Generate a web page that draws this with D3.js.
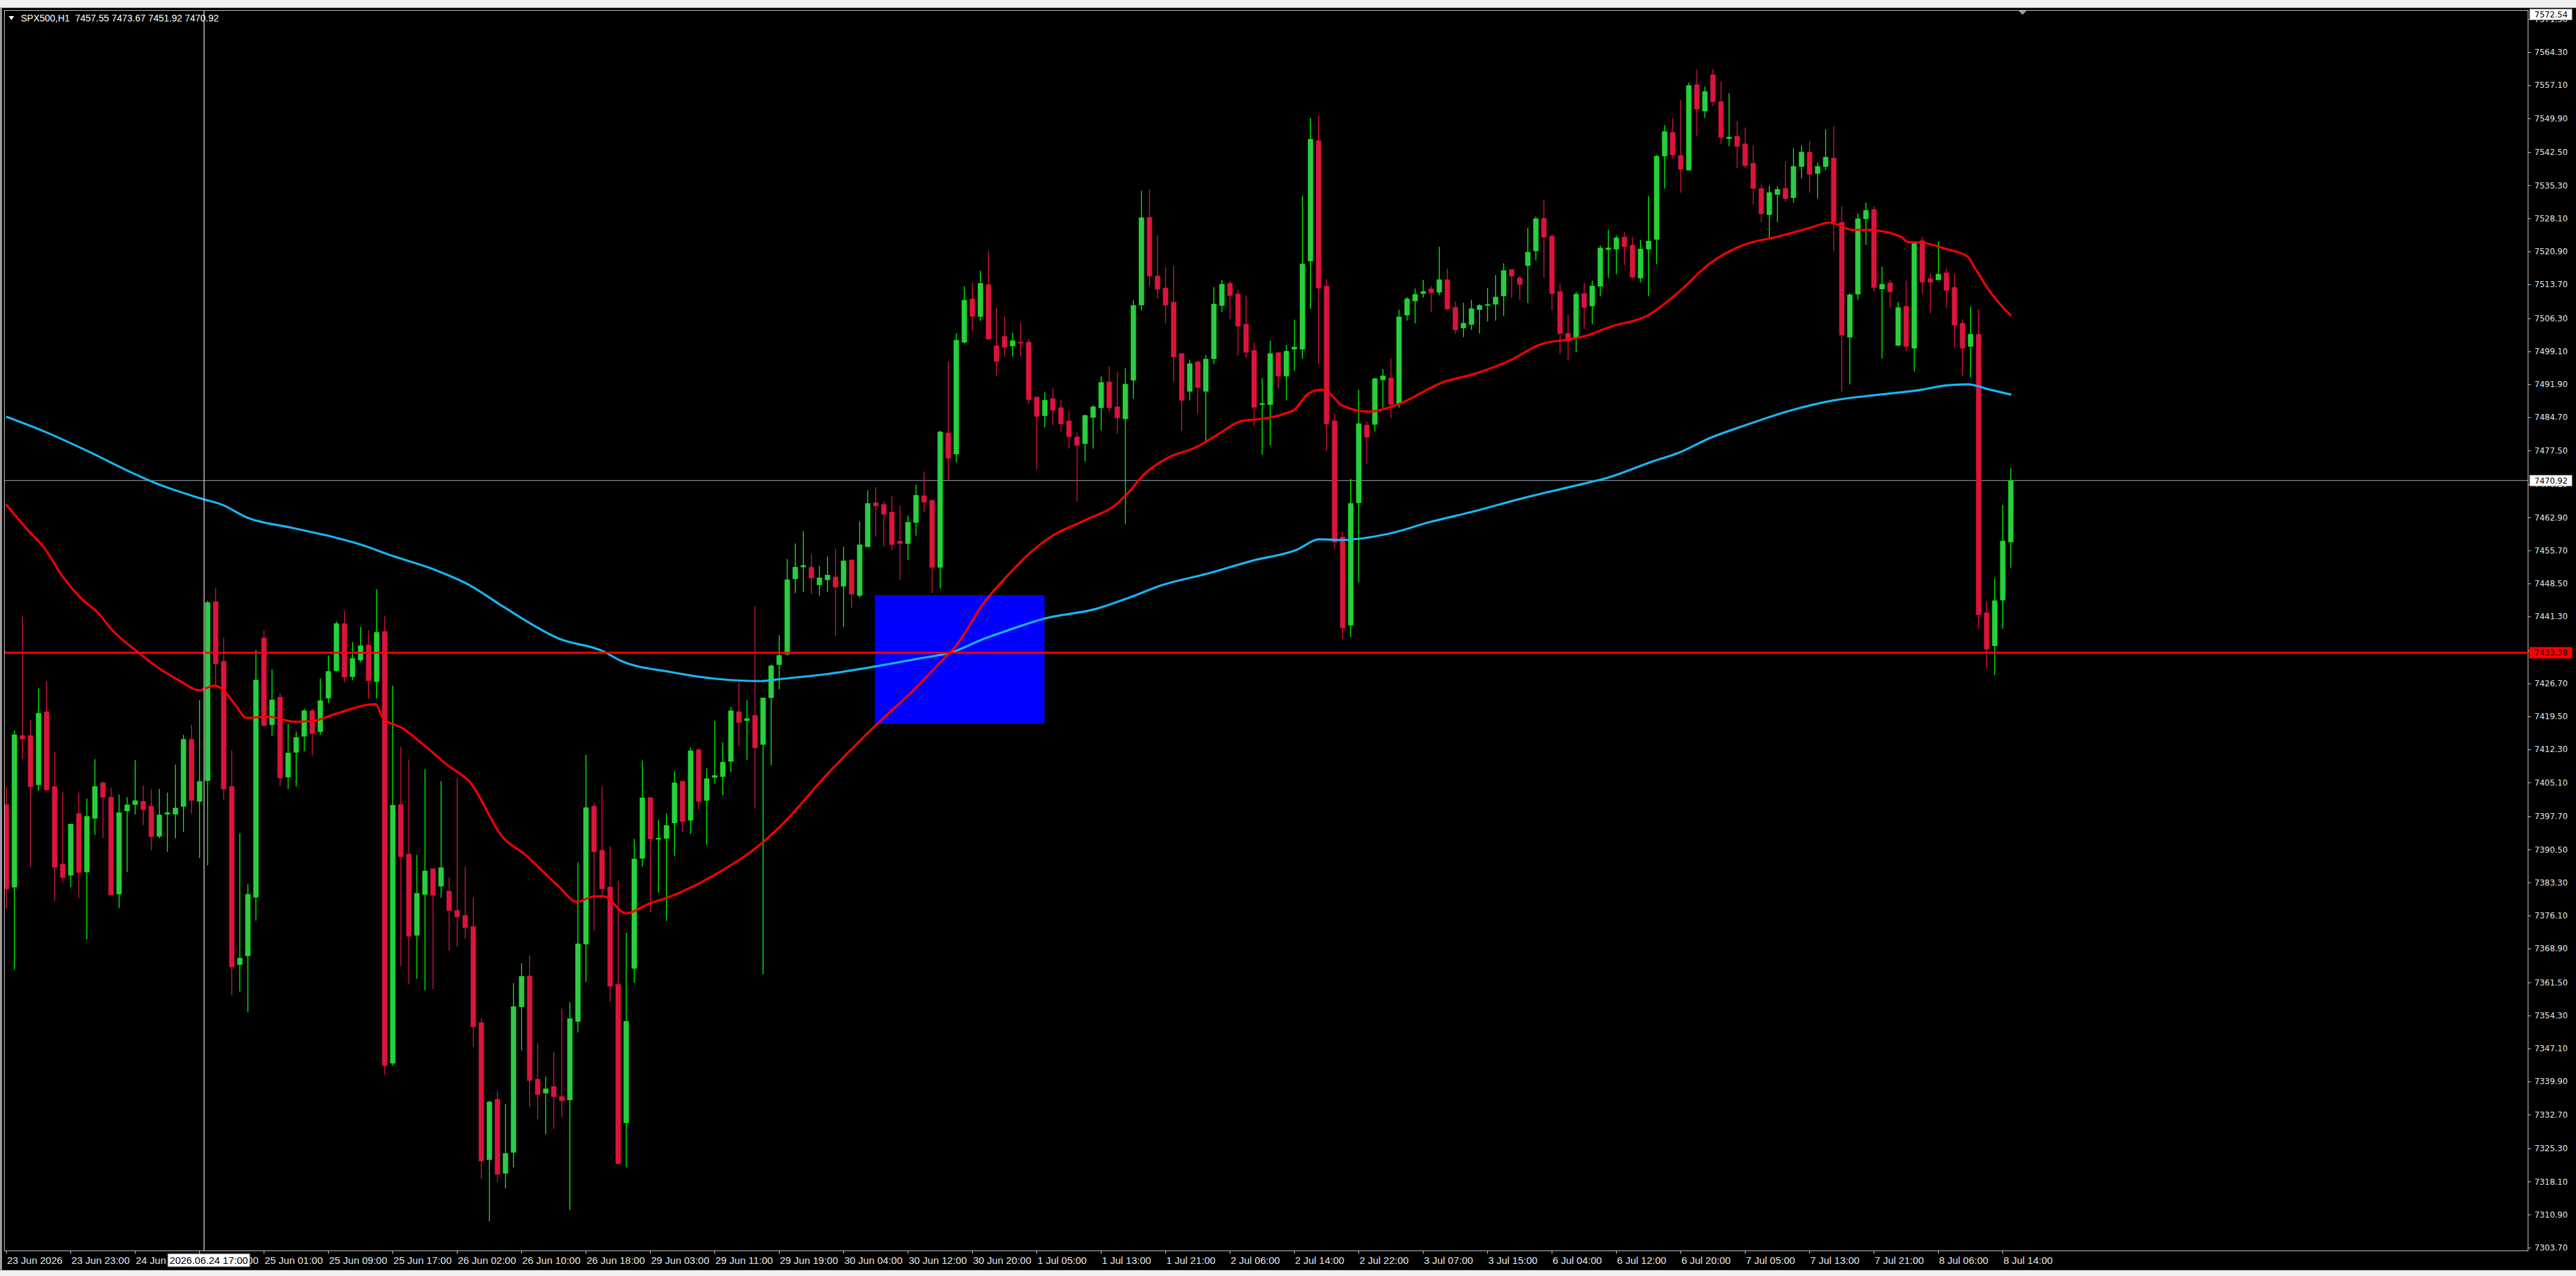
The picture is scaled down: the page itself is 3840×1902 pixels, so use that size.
<!DOCTYPE html>
<html><head><meta charset="utf-8">
<script src="https://cdn.jsdelivr.net/npm/d3@7"></script>
<style>
html,body{margin:0;padding:0;background:#000;overflow:hidden;}
svg{display:block;}
</style></head><body>
<svg id="chart" width="3840" height="1902"></svg>
<script>
// ---------------- DATA ----------------
const opens = [
7400.3,7382.3,7415.3,7415.3,7404.6,7420.5,7404.2,7387.3,7384.9,7398.3,
7385.6,7397.3,7405.0,7401.9,7380.8,7398.9,7400.3,7401.0,7399.9,7393.4,
7398.2,7398.2,7399.9,7414.5,7401.0,7405.5,7444.5,7431.5,7404.2,7365.4,
7367.3,7380.1,7436.6,7417.7,7423.7,7406.3,7411.7,7415.2,7420.7,7416.2,
7423.5,7429.5,7439.7,7428.2,7431.8,7435.1,7427.1,7438.0,7343.9,7400.3,
7389.5,7371.8,7380.7,7386.3,7382.5,7381.4,7377.2,7376.1,7373.7,7352.7,
7322.9,7336.0,7319.9,7324.5,7356.2,7362.9,7340.4,7337.4,7338.8,7336.6,
7335.9,7353.0,7369.9,7399.9,7390.3,7382.3,7361.1,7330.9,7364.6,7388.6,
7401.8,7392.8,7392.9,7396.3,7405.4,7396.9,7412.2,7401.2,7406.2,7406.4,
7409.7,7420.5,7418.6,7419.7,7413.4,7423.6,7430.8,7433.1,7449.5,7452.1,
7452.0,7448.2,7449.3,7449.9,7447.9,7453.6,7445.9,7456.5,7466.1,7465.7,
7464.0,7457.7,7457.2,7461.8,7467.6,7466.6,7452.0,7481.3,7476.7,7501.1,
7510.5,7506.7,7513.6,7500.3,7502.3,7500.3,7501.1,7501.1,7489.1,7485.1,
7488.8,7486.8,7483.9,7480.4,7479.0,7484.7,7486.8,7492.4,7487.0,7484.4,
7492.8,7509.2,7528.3,7515.5,7512.9,7509.8,7498.6,7490.4,7496.8,7490.4,
7497.5,7509.1,7513.9,7511.6,7505.0,7499.3,7487.5,7487.5,7498.8,7493.7,
7499.6,7499.6,7518.8,7545.0,7513.3,7483.9,7458.6,7439.4,7466.1,7483.0,
7483.2,7492.9,7493.3,7487.7,7507.0,7510.1,7511.7,7512.7,7512.0,7514.7,
7508.7,7504.2,7505.0,7508.2,7509.2,7509.4,7511.2,7516.9,7515.1,7517.8,
7521.0,7528.1,7524.2,7512.1,7503.0,7502.2,7511.7,7509.0,7513.3,7521.3,
7521.4,7524.0,7522.2,7515.1,7521.4,7523.5,7541.7,7546.8,7541.8,7538.6,
7557.2,7551.5,7559.4,7553.5,7545.5,7546.0,7544.3,7540.1,7534.6,7528.9,
7533.3,7534.6,7532.6,7539.4,7542.5,7537.9,7539.4,7541.2,7527.2,7502.2,
7511.6,7528.0,7530.0,7512.7,7514.0,7500.4,7508.9,7499.8,7523.2,7514.9,
7514.7,7516.2,7513.0,7505.2,7500.2,7502.8,7442.1,7434.9,7444.9,7457.55];
const highs = [
7404.2,7416.4,7441.3,7418.8,7425.6,7427.2,7411.7,7403.1,7396.0,7402.9,
7401.6,7410.2,7405.3,7404.0,7402.5,7401.9,7410.0,7404.4,7403.6,7403.7,
7402.9,7409.0,7415.5,7417.7,7423.1,7444.7,7447.5,7436.6,7412.1,7394.0,
7382.9,7434.0,7438.3,7429.8,7424.6,7417.9,7416.2,7421.2,7421.2,7427.8,
7432.8,7440.2,7442.5,7435.7,7439.0,7438.3,7447.2,7441.3,7426.2,7412.9,
7410.1,7389.3,7408.0,7386.3,7405.4,7384.4,7406.1,7386.7,7380.0,7353.7,
7335.7,7337.8,7335.0,7361.4,7365.7,7367.4,7348.3,7341.0,7346.4,7355.8,
7357.2,7387.7,7411.1,7400.7,7404.2,7391.2,7383.7,7372.3,7392.8,7409.9,
7401.8,7397.0,7398.4,7407.6,7405.4,7412.7,7412.5,7408.2,7418.5,7413.9,
7421.6,7427.1,7423.0,7443.5,7423.5,7430.8,7437.2,7453.8,7457.2,7459.9,
7454.9,7452.3,7454.4,7456.1,7456.5,7453.6,7462.0,7468.8,7469.5,7466.4,
7467.6,7465.4,7463.3,7470.0,7472.9,7466.6,7481.8,7496.9,7503.0,7513.3,
7514.1,7516.7,7521.0,7508.5,7506.7,7503.1,7505.3,7501.7,7489.3,7490.2,
7491.0,7488.6,7486.0,7481.4,7485.3,7487.4,7493.7,7495.9,7494.6,7495.4,
7510.2,7534.1,7534.4,7524.4,7517.4,7517.8,7498.6,7497.3,7497.0,7498.3,
7513.1,7514.7,7514.4,7512.6,7511.3,7501.0,7493.3,7501.4,7498.8,7500.5,
7506.0,7533.0,7550.0,7550.5,7514.8,7485.6,7459.8,7471.3,7490.7,7483.8,
7493.3,7495.2,7497.6,7508.2,7510.9,7512.8,7514.7,7513.3,7521.9,7517.1,
7510.0,7509.7,7510.3,7509.4,7512.9,7515.7,7518.3,7516.9,7515.5,7526.0,
7528.5,7532.2,7524.6,7513.9,7507.1,7512.1,7514.0,7514.5,7522.2,7525.6,
7524.3,7525.1,7524.0,7523.4,7533.0,7541.9,7548.4,7549.9,7553.9,7557.7,
7560.5,7556.8,7560.7,7558.0,7555.4,7549.3,7547.9,7544.0,7535.5,7535.2,
7535.1,7540.5,7543.4,7544.0,7544.9,7540.3,7547.5,7548.2,7530.7,7511.8,
7529.1,7531.5,7530.7,7517.5,7514.7,7509.9,7514.5,7523.0,7524.1,7516.2,
7523.0,7517.3,7516.0,7506.1,7508.9,7508.3,7444.6,7449.6,7465.6,7473.67];
const lows = [
7377.6,7364.3,7410.2,7386.6,7403.3,7403.3,7379.3,7383.3,7382.3,7379.9,
7370.9,7393.7,7393.0,7380.6,7377.7,7385.6,7398.2,7395.8,7390.3,7392.9,
7390.0,7392.9,7394.3,7398.3,7388.6,7387.0,7426.3,7401.4,7358.7,7359.5,
7355.0,7375.0,7417.3,7415.3,7404.3,7403.7,7404.2,7411.9,7411.0,7415.5,
7422.4,7429.3,7426.9,7427.4,7431.3,7423.4,7423.4,7341.3,7343.4,7365.1,
7361.1,7362.3,7359.8,7360.1,7380.0,7368.4,7369.3,7371.0,7347.4,7318.7,
7309.4,7318.0,7316.6,7321.2,7346.7,7334.3,7331.7,7328.4,7329.6,7332.2,
7311.9,7350.6,7361.6,7372.8,7380.0,7357.3,7322.0,7321.2,7361.4,7386.8,
7376.8,7381.1,7374.9,7389.1,7394.3,7393.9,7399.2,7391.5,7404.8,7402.3,
7407.4,7413.0,7410.0,7399.4,7363.3,7408.9,7425.4,7432.8,7446.4,7446.6,
7446.2,7445.8,7446.6,7437.0,7439.0,7443.1,7445.4,7456.5,7458.7,7456.5,
7455.8,7449.3,7453.6,7458.9,7464.1,7446.4,7447.4,7471.0,7474.9,7500.8,
7503.5,7505.7,7501.6,7493.8,7497.9,7498.0,7498.0,7487.7,7473.4,7482.5,
7483.0,7481.6,7477.9,7466.4,7475.1,7477.9,7481.9,7485.8,7481.1,7461.5,
7488.8,7508.0,7513.4,7510.5,7505.2,7492.6,7481.8,7488.4,7485.5,7479.3,
7496.3,7507.7,7506.1,7498.2,7497.6,7482.8,7476.5,7478.6,7491.0,7488.4,
7494.9,7497.5,7508.4,7496.3,7477.4,7456.0,7436.4,7436.8,7448.7,7474.6,
7481.6,7486.8,7484.6,7486.8,7505.8,7505.2,7510.8,7507.6,7511.3,7508.2,
7502.9,7502.2,7503.8,7503.0,7505.6,7505.8,7506.8,7510.8,7510.3,7509.6,
7518.9,7515.1,7508.0,7498.5,7497.1,7498.9,7504.0,7505.0,7511.1,7515.1,
7515.9,7517.9,7514.9,7514.1,7511.1,7518.1,7534.6,7541.1,7533.7,7538.6,
7546.0,7550.0,7552.6,7544.3,7543.8,7539.0,7539.0,7531.1,7527.3,7523.7,
7527.3,7531.7,7531.5,7536.8,7533.7,7532.4,7538.6,7521.0,7490.2,7491.9,
7510.3,7522.3,7512.1,7497.5,7508.6,7500.2,7499.1,7494.7,7511.6,7507.4,
7514.7,7508.6,7500.0,7493.7,7493.4,7438.6,7430.0,7428.5,7438.6,7451.92];
const closes = [
7381.9,7415.5,7414.6,7404.2,7420.2,7403.5,7386.6,7384.4,7396.0,7385.5,
7397.7,7404.2,7401.9,7380.6,7398.5,7400.2,7401.1,7399.2,7393.3,7398.0,
7398.5,7399.5,7414.5,7401.2,7405.3,7444.3,7431.0,7403.7,7364.9,7366.8,
7380.7,7427.4,7417.5,7423.1,7406.1,7411.5,7414.9,7420.7,7415.8,7422.9,
7429.3,7439.7,7428.1,7432.1,7434.9,7427.3,7437.8,7343.4,7400.1,7388.9,
7371.6,7380.9,7385.8,7380.5,7386.5,7377.2,7375.8,7373.5,7351.8,7322.6,
7335.4,7319.7,7324.2,7356.2,7362.8,7340.1,7337.1,7338.3,7336.6,7335.7,
7353.6,7369.9,7399.6,7390.0,7381.9,7360.7,7322.0,7353.0,7388.4,7401.7,
7392.8,7392.9,7395.7,7405.0,7396.6,7412.0,7401.0,7405.9,7406.6,7409.5,
7420.7,7418.2,7419.0,7412.7,7423.5,7430.5,7432.8,7449.3,7452.0,7452.4,
7449.7,7449.7,7450.3,7447.7,7453.4,7446.2,7456.9,7465.9,7465.4,7463.6,
7457.0,7457.2,7461.8,7467.7,7466.2,7452.0,7481.5,7475.8,7501.5,7510.2,
7506.7,7513.9,7501.8,7496.9,7500.0,7501.4,7500.9,7488.6,7484.9,7488.4,
7486.3,7483.3,7480.5,7478.6,7485.1,7487.0,7492.3,7486.8,7484.6,7491.9,
7509.1,7528.2,7515.5,7512.6,7509.2,7497.9,7488.4,7496.4,7491.2,7497.4,
7509.4,7513.7,7511.3,7504.6,7498.9,7486.9,7487.7,7498.6,7493.7,7499.1,
7500.0,7518.1,7545.3,7512.9,7483.3,7457.5,7438.8,7465.9,7483.3,7480.4,
7493.1,7493.7,7487.5,7506.6,7510.5,7511.5,7512.1,7511.9,7514.7,7508.3,
7503.8,7505.2,7508.4,7509.1,7509.3,7510.9,7516.7,7515.5,7513.7,7520.7,
7528.0,7524.0,7511.7,7503.0,7501.4,7511.5,7508.7,7513.3,7521.6,7521.6,
7523.8,7521.9,7515.3,7521.4,7523.1,7541.6,7547.0,7541.9,7538.8,7557.0,
7551.9,7555.7,7553.5,7545.8,7545.8,7543.8,7539.6,7534.6,7529.1,7533.7,
7534.4,7532.4,7539.4,7542.5,7537.7,7539.4,7541.4,7527.3,7502.6,7511.4,
7528.0,7529.8,7513.0,7513.7,7512.1,7508.6,7500.2,7522.6,7514.2,7514.2,
7515.9,7512.4,7504.8,7499.8,7502.8,7441.7,7434.2,7444.7,7457.7,7470.92];

// moving averages: [bar index, price]
const maSlow = [[0,7484.85],[4.8,7481.59],[10.4,7477.13],[15.9,7472.41],[18.7,7470.26],[24.25,7467.0],[27,7465.54],[29.8,7462.96],[35.4,7460.65],[40.9,7458.5],[44,7457.0],[48,7454.5],[53.4,7451.37],[57.6,7448.1],[61.75,7443.44],[68.7,7436.45],[74.25,7433.65],[76.2,7431.78],[82.6,7429.17],[88.1,7427.71],[93.7,7427.2],[96.5,7427.71],[102.0,7428.74],[107.6,7430.28],[113.1,7432.02],[117.6,7433.56],[121.5,7436.44],[124.3,7438.18],[129.0,7440.84],[135.4,7442.94],[139.5,7445.38],[143.7,7448.18],[149.25,7450.63],[154.8,7453.43],[160.4,7455.88],[163.1,7458.12],[165.9,7457.98],[171.5,7459.24],[177.0,7461.93],[182.6,7464.31],[188.1,7466.93],[193.7,7469.31],[199.25,7471.69],[204.8,7475.25],[207.6,7476.84],[211.75,7480.25],[215.9,7482.88],[221.5,7486.12],[227.0,7488.40],[232.6,7489.63],[238.1,7490.77],[240.9,7491.65],[243.7,7491.91],[246.4,7490.77],[249.1,7489.63]];
const maFast = [[0,7465.71],[2.58,7460.39],[4.8,7456.1],[7.0,7450.09],[9.25,7445.37],[11.5,7441.94],[13.1,7438.5],[16.5,7433.35],[18.7,7430.35],[21.5,7427.35],[24.0,7425.2],[25.9,7426.23],[27.0,7425.2],[28.4,7422.2],[29.9,7419.19],[32.6,7419.45],[35.9,7418.34],[38.1,7418.5],[40.9,7420.05],[45.9,7422.17],[46.8,7419.19],[49.3,7416.86],[52.0,7413.12],[54.8,7408.93],[57.6,7405.2],[61.75,7393.07],[64.5,7389.34],[68.7,7382.34],[70.9,7379.08],[73.1,7380.29],[74.25,7380.29],[77.0,7376.56],[79.8,7378.61],[82.6,7380.29],[88.9,7385.85],[92.9,7390.47],[96.5,7396.11],[102.0,7406.88],[107.6,7416.84],[113.1,7425.87],[115.9,7431.0],[118.1,7435.1],[121.5,7444.34],[124.3,7449.98],[127.0,7454.83],[129.8,7458.68],[133.9,7462.17],[138.1,7466.02],[139.5,7468.47],[141.4,7472.32],[144.25,7475.82],[147.9,7478.26],[150.6,7481.06],[153.4,7483.86],[156.2,7484.42],[159.0,7485.61],[160.0,7486.31],[161.75,7489.81],[163.4,7490.72],[164.5,7489.81],[165.9,7487.36],[169.25,7485.96],[172.9,7487.54],[178.4,7492.30],[182.6,7494.28],[186.75,7497.06],[190.9,7500.79],[193.7,7501.58],[196.5,7502.61],[199.25,7504.43],[204,7506.97],[207.6,7511.73],[211.75,7518.39],[215.9,7522.34],[220.1,7524.09],[224.25,7526.11],[226.5,7527.16],[227.6,7526.72],[229.25,7525.58],[231.2,7525.58],[235.4,7524.09],[236.2,7522.95],[238.1,7522.78],[240.9,7521.46],[243.7,7519.71],[244.5,7517.51],[246.4,7512.25],[247.8,7509.18],[249.1,7506.81]];

const timeTickIndex = [0,8,16,24,32,40,48,56,64,72,80,88,96,104,112,120,128,136,144,152,160,168,176,184,192,200,208,216,224,232,240,248];
const timeTickLabels = ["23 Jun 2026","23 Jun 23:00","24 Jun 08:00","24 Jun 16:00","25 Jun 01:00","25 Jun 09:00","25 Jun 17:00","26 Jun 02:00","26 Jun 10:00","26 Jun 18:00","29 Jun 03:00","29 Jun 11:00","29 Jun 19:00","30 Jun 04:00","30 Jun 12:00","30 Jun 20:00","1 Jul 05:00","1 Jul 13:00","1 Jul 21:00","2 Jul 06:00","2 Jul 14:00","2 Jul 22:00","3 Jul 07:00","3 Jul 15:00","6 Jul 04:00","6 Jul 12:00","6 Jul 20:00","7 Jul 05:00","7 Jul 13:00","7 Jul 21:00","8 Jul 06:00","8 Jul 14:00"];
const priceTicks = [7571.50,7564.30,7557.10,7549.90,7542.50,7535.30,7528.10,7520.90,7513.70,7506.30,7499.10,7491.90,7484.70,7477.50,7470.10,7462.90,7455.70,7448.50,7441.30,7433.90,7426.70,7419.50,7412.30,7405.10,7397.70,7390.50,7383.30,7376.10,7368.90,7361.50,7354.30,7347.10,7339.90,7332.70,7325.30,7318.10,7310.90,7303.70];

const headerText = "SPX500,H1  7457.55 7473.67 7451.92 7470.92";
const levelPrice = 7433.38;
const bidPrice = 7470.92;
const topMarkPrice = 7572.54;
const zoneBars = [107.92, 129.0];
const zonePrices = [7445.96, 7417.88];
const crosshairBar = 24.6;
const crosshairLabel = "2026.06.24 17:00";

// ---------------- LAYOUT ----------------
const W = 3840, H = 1902;
const P = {left: 6, right: 3768, top: 15, bottom: 1864};
const svg = d3.select("#chart");

const x = d3.scaleLinear().domain([0, 249]).range([9, 2997]);
const y = d3.scaleLinear().domain([7303.70, 7564.30]).range([1859.62, 77.90]);

svg.append("rect").attr("width", W).attr("height", H).attr("fill", "#000");
// window chrome
svg.append("rect").attr("x",0).attr("y",0).attr("width",W).attr("height",11).attr("fill","#f0f0f0");
svg.append("line").attr("x1",0).attr("x2",W).attr("y1",11.5).attr("y2",11.5).attr("stroke","#a0a0a0");
svg.append("rect").attr("x",0).attr("y",1893).attr("width",W).attr("height",9).attr("fill","#f0f0f0");
svg.append("line").attr("x1",0).attr("x2",W).attr("y1",1893.5).attr("y2",1893.5).attr("stroke","#a0a0a0");
svg.append("rect").attr("x",0).attr("y",11).attr("width",3).attr("height",1882).attr("fill","#a0a0a0");

const defs = svg.append("defs");
defs.append("clipPath").attr("id","plotclip").append("rect")
  .attr("x",P.left+1).attr("y",P.top+1).attr("width",P.right-P.left-1).attr("height",P.bottom-P.top-1);

const plot = svg.append("g").attr("clip-path","url(#plotclip)");

// zone rectangle
plot.append("rect")
  .attr("x", x(zoneBars[0])).attr("width", x(zoneBars[1]) - x(zoneBars[0]))
  .attr("y", y(zonePrices[0])).attr("height", y(zonePrices[1]) - y(zonePrices[0]))
  .attr("fill", "#0000ff");

// bid line
plot.append("line").attr("x1",P.left).attr("x2",P.right)
  .attr("y1", y(bidPrice)).attr("y2", y(bidPrice))
  .attr("stroke","#7f8896").attr("stroke-width",1.2);

// candles
const idx = d3.range(opens.length);
const bull = i => closes[i] >= opens[i];
const cg = plot.append("g");
cg.selectAll("line.wick").data(idx).join("line").attr("class","wick")
  .attr("x1", i => Math.round(x(i)) + 0.5).attr("x2", i => Math.round(x(i)) + 0.5)
  .attr("y1", i => y(highs[i])).attr("y2", i => y(lows[i]))
  .attr("stroke", i => bull(i) ? "#00ff00" : "#dc143c").attr("stroke-width", 1.3);
cg.selectAll("rect.body").data(idx).join("rect").attr("class","body")
  .attr("x", i => Math.round(x(i)) - 3)
  .attr("width", 7)
  .attr("y", i => y(Math.max(opens[i], closes[i])))
  .attr("height", i => Math.max(1.2, Math.abs(y(opens[i]) - y(closes[i]))))
  .attr("fill", i => bull(i) ? "#2fc84a" : "#dc143c")
  .attr("stroke", i => bull(i) ? "#00ff00" : "#dc143c")
  .attr("stroke-width", 0.8);

// moving averages
const maLine = d3.line().x(d => x(d[0])).y(d => y(d[1])).curve(d3.curveMonotoneX);
plot.append("path").datum(maSlow).attr("d", maLine)
  .attr("fill","none").attr("stroke","#18b8f5").attr("stroke-width",3.2).attr("stroke-linejoin","round");
plot.append("path").datum(maFast).attr("d", maLine)
  .attr("fill","none").attr("stroke","#ff0000").attr("stroke-width",3.2).attr("stroke-linejoin","round");

// horizontal level
plot.append("line").attr("x1",P.left).attr("x2",P.right)
  .attr("y1", y(levelPrice)).attr("y2", y(levelPrice))
  .attr("stroke","#ff0000").attr("stroke-width",3);

// chart shift marker
svg.append("path").attr("d", `M${x(250.5)-6},${P.top+1}L${x(250.5)+6},${P.top+1}L${x(250.5)},${P.top+7}Z`).attr("fill","#9a9a9a");

// frame
svg.append("rect").attr("x",P.left+0.5).attr("y",P.top+0.5)
  .attr("width",P.right-P.left).attr("height",P.bottom-P.top)
  .attr("fill","none").attr("stroke","#c8c8c8").attr("stroke-width",1);

// crosshair
svg.append("line").attr("x1", x(crosshairBar)).attr("x2", x(crosshairBar))
  .attr("y1", P.top).attr("y2", P.bottom)
  .attr("stroke","#d0d0d0").attr("stroke-width",1.3);

// price axis
const yAxis = d3.axisRight(y).tickValues(priceTicks).tickSize(5).tickPadding(5)
  .tickFormat(d3.format(".2f"));
const gy = svg.append("g").attr("transform", `translate(${P.right},0)`).call(yAxis);
gy.select(".domain").remove();
gy.selectAll(".tick line").attr("stroke","#c8c8c8");
gy.selectAll(".tick text").attr("fill","#e6e6e6")
  .style("font-family","'DejaVu Sans', Verdana, sans-serif").style("font-size","12px");

// time axis
const xAxis = d3.axisBottom(x).tickValues(timeTickIndex).tickSize(5).tickPadding(4)
  .tickFormat((d, i) => timeTickLabels[i]);
const gx = svg.append("g").attr("transform", `translate(0,${P.bottom})`).call(xAxis);
gx.select(".domain").remove();
gx.selectAll(".tick line").attr("stroke","#c8c8c8");
gx.selectAll(".tick text").attr("fill","#e6e6e6").attr("text-anchor","start").attr("x",1)
  .style("font-family","'Liberation Sans Narrow','Liberation Sans', Arial, sans-serif").style("font-size","15px");

// price labels on axis
function priceBox(price, bg, fg) {
  const yy = y(price);
  const g = svg.append("g");
  g.append("rect").attr("x", P.right + 3).attr("y", yy - 8).attr("width", 63).attr("height", 16)
    .attr("fill", bg).attr("stroke", bg === "#ffffff" ? "#9a9a9a" : bg);
  g.append("text").attr("x", P.right + 10).attr("y", yy + 4.5).text(d3.format(".2f")(price))
    .attr("fill", fg).style("font-family","'DejaVu Sans', Verdana, sans-serif").style("font-size","12px");
}
priceBox(topMarkPrice, "#ffffff", "#000000");
priceBox(bidPrice, "#ffffff", "#000000");
priceBox(levelPrice, "#ff0000", "#000000");
// level line stub into the axis
svg.append("line").attr("x1",P.right).attr("x2",P.right+3).attr("y1",y(levelPrice)).attr("y2",y(levelPrice))
  .attr("stroke","#ff0000").attr("stroke-width",3);

// crosshair time label
const cx = x(crosshairBar);
svg.append("rect").attr("x", cx - 54).attr("y", P.bottom + 5).attr("width", 122).attr("height", 19)
  .attr("fill","#ffffff").attr("stroke","#9a9a9a");
svg.append("text").attr("x", cx + 7).attr("y", P.bottom + 19.5).attr("text-anchor","middle")
  .text(crosshairLabel).attr("fill","#000")
  .style("font-family","'Liberation Sans Narrow','Liberation Sans', Arial, sans-serif").style("font-size","15px");

// header
svg.append("path").attr("d","M13,24L21,24L17,30Z").attr("fill","#ffffff");
svg.append("text").attr("x", 31).attr("y", 32).text(headerText)
  .attr("fill","#ffffff").attr("xml:space","preserve").style("white-space","pre")
  .style("font-family","'Liberation Sans Narrow','Liberation Sans', Arial, sans-serif").style("font-size","14px");
</script>
</body></html>
